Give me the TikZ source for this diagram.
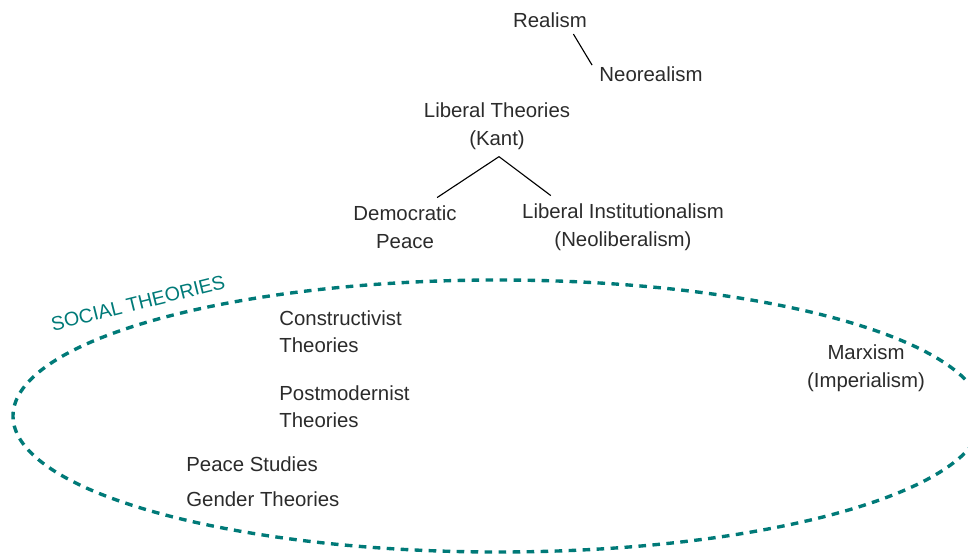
\documentclass[tikz,border=0pt]{standalone}
\usepackage{fontspec}
\setmainfont{Liberation Sans}
\usepackage{xcolor}
\definecolor{socialTeal}{HTML}{007A78}
\definecolor{labelGray}{HTML}{2B2B2B}
\colorlet{colorTheory}{labelGray}
\colorlet{colorSocial}{socialTeal}
\usetikzlibrary{positioning}
\tikzset{theory/.style={text=colorTheory, align=center, font=\fontsize{14.5}{19.6}\selectfont}}
\tikzset{theoryL/.style={theory, align=left, anchor=west}}

\begin{document}
\begin{tikzpicture}[thick, line width=0.8pt, every node/.style={inner sep=2pt}]
\useasboundingbox (0,0) rectangle (24.2,13.875);
% realist branch
\node[theory] (real) at (13.75,13.375) {Realism};
\node[theory] (neoreal) at (16.275,12.025) {Neorealism};
\draw ([xshift=-0.42cm,yshift=-0.08cm]real.south east) -- ([xshift=-0.1cm,yshift=-0.05cm]neoreal.north west);
% liberal branch
\node[theory] (lib) at (12.425,10.725) {Liberal Theories\\(Kant)};
\node[theory] (dem) at (10.125,8.2) {Democratic\\Peace};
\node[theory] (libinst) at (15.575,8.2) {Liberal Institutionalism\\(Neoliberalism)};
\coordinate[below=0.1cm of lib, xshift=0.05cm] (fork);
\draw (fork) -- ([xshift=-0.57cm,yshift=0.12cm]dem.north east);
\draw (fork) -- ([xshift=0.8cm,yshift=0.12cm]libinst.north west);
% social theories
\draw[colorSocial, line width=2.4pt, dash pattern=on 0.19cm off 0.16cm] (12.45,3.475) ellipse [x radius=12.125, y radius=3.4];
\node[text=colorSocial, font=\fontsize{14}{19}\selectfont, rotate=14] (social) at (3.45,6.3) {SOCIAL THEORIES};
\node[theoryL] (constr) at (6.9,5.5875) {Constructivist\\Theories};
\node[theoryL] (postmod) at (6.9,3.7125) {Postmodernist\\Theories};
\node[theoryL] (peace) at (4.575,2.275) {Peace Studies};
\node[theoryL] (gender) at (4.575,1.4) {Gender Theories};
\node[theory] (marx) at (21.65,4.675) {Marxism\\(Imperialism)};
\end{tikzpicture}
\end{document}
